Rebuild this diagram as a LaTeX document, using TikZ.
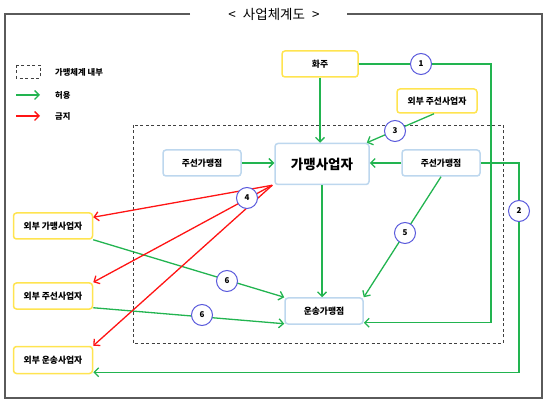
\documentclass[tikz,border=0pt]{standalone}
\usepackage{fontspec}
\setmainfont{Noto Sans CJK KR}
\usetikzlibrary{arrows.meta}
\definecolor{gline}{RGB}{34,180,80}
\definecolor{rline}{RGB}{255,20,20}
\definecolor{ybord}{RGB}{255,228,80}
\definecolor{bbord}{RGB}{189,215,238}
\definecolor{cbord}{RGB}{90,90,220}
\definecolor{frame}{RGB}{90,90,90}
\tikzset{
  ybox/.style={draw=ybord, line width=1.5pt, rounded corners=3pt, fill=white, minimum width=79pt, minimum height=26pt, inner sep=1pt, font=\fontsize{8.8}{10}\selectfont\bfseries},
  bbox/.style={draw=bbord, line width=1.5pt, rounded corners=3pt, fill=white, minimum width=78pt, minimum height=26pt, inner sep=1pt, font=\fontsize{8.8}{10}\selectfont\bfseries},
  num/.style={circle, draw=cbord, line width=1pt, fill=white, minimum size=21pt, inner sep=0pt, font=\fontsize{8}{9}\selectfont\bfseries},
  ga/.style={draw=gline, line width=1.3pt, -{Straight Barb[length=4.5pt,width=9pt]}},
  ra/.style={draw=rline, line width=1.3pt, -{Straight Barb[length=4.5pt,width=9pt]}},
  legtext/.style={anchor=west, font=\fontsize{8.3}{9}\selectfont\bfseries, inner sep=0pt},
  dashbox/.style={draw=black!75, line width=0.9pt, dash pattern=on 3pt off 2.5pt},
}
\begin{document}
\begin{tikzpicture}[x=1pt,y=-1pt]
\useasboundingbox (0,0) rectangle (546,403);
% outer frame
\node[font=\fontsize{13.5}{15}\selectfont, inner sep=0pt] (title) at (274,14) {<\hspace{7pt}사업체계도\hspace{7pt}>};
\coordinate (f1) at (190,14);
\coordinate (f2) at (5,14);
\coordinate (f3) at (5,398);
\coordinate (f4) at (542,398);
\coordinate (f5) at (542,14);
\coordinate (f6) at (347,14);
\draw[frame, line width=1.2pt] (f1) -- (f2) -- (f3) -- (f4) -- (f5) -- (f6);
% inner dashed box
\draw[dashbox] (133,125) rectangle (503,343);
% legend
\draw[dashbox] (16,65) rectangle (40,78);
\node[legtext] (lg1) at (55,72) {가맹체계 내부};
\coordinate (la1) at (16,95);
\coordinate (la2) at (40,95);
\coordinate (lb1) at (16,116);
\coordinate (lb2) at (40,116);
\draw[ga] (la1) -- (la2);
\draw[ra] (lb1) -- (lb2);
\node[legtext] (lg2) at (55,95) {허용};
\node[legtext] (lg3) at (55,116) {금지};
% nodes
\node[ybox, minimum width=76pt] (hwaju) at (320,64) {화주};
\node[ybox, minimum width=80pt, minimum height=24pt] (extTop) at (437,101) {외부 주선사업자};
\node[bbox] (jl) at (202,163) {주선가맹점};
\node[bbox, minimum width=94pt, minimum height=41pt, font=\fontsize{13.5}{15}\selectfont\bfseries] (main) at (322,164) {가맹사업자};
\node[bbox] (jr) at (441,163) {주선가맹점};
\node[bbox] (unsong) at (324,311) {운송가맹점};
\node[ybox] (ext1) at (53,226) {외부 가맹사업자};
\node[ybox] (ext2) at (53,296) {외부 주선사업자};
\node[ybox, minimum height=27pt] (ext3) at (53,360) {외부 운송사업자};
% routing coordinates
\coordinate (r1) at (491,64);
\coordinate (r2) at (519,163);
% connectors
\draw[ga] (hwaju.south) -- (hwaju.south |- main.north);
\draw[ga] (hwaju.east) -- (r1) |- ([yshift=2pt]unsong.south east);
\draw[ga] (jr.east) -- (r2) |- ([yshift=2pt]ext3.south east);
\draw[ga] ([xshift=-3pt]extTop.south) -- ([xshift=-3pt]main.north east);
\draw[ga] (jl.east) -- (jl.east -| main.west);
\draw[ga] (jr.west) -- (jr.west -| main.east);
\draw[ga] (main.south) -- (main.south |- unsong.north);
\draw[ga] (jr.south) -- (unsong.north east);
\draw[ga] (ext1.south east) -- (unsong.north west);
\draw[ga] ([yshift=2pt]ext2.south east) -- ([yshift=1pt]unsong.south west);
\draw[ra] ([xshift=-2pt]main.south west) -- ([yshift=-5pt]ext1.north east);
\draw[ra] ([xshift=-2pt]main.south west) -- (ext2.north east);
\draw[ra] ([xshift=-2pt]main.south west) -- (ext3.north east);
% number circles
\node[num] (n1) at (421,64) {1};
\node[num] (n2) at (519,211) {2};
\node[num] (n3) at (395,131) {3};
\node[num] (n4) at (247,198) {4};
\node[num] (n5) at (405,233) {5};
\node[num] (n6a) at (227,281) {6};
\node[num] (n6b) at (202,315) {6};
\end{tikzpicture}
\end{document}
